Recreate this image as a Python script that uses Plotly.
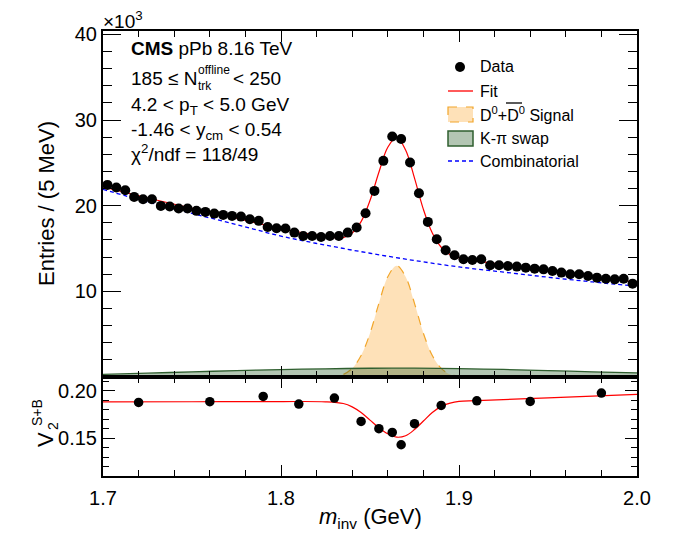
import plotly.graph_objects as go

FONT = "Liberation Sans"

# ---------------- data ----------------
# 5 MeV bins from 1.70 to 2.00 GeV
bin_lo, bin_width, n_bins = 1.70, 0.005, 60
mass = [round(bin_lo + bin_width * (i + 0.5), 4) for i in range(n_bins)]
entries = [22.43, 22.13, 21.81, 21.03, 20.76, 20.76, 19.98, 19.90, 19.67, 19.67,
           19.40, 19.28, 19.08, 18.93, 18.81, 18.73, 18.42, 18.23, 17.52, 17.37,
           17.33, 16.86, 16.47, 16.47, 16.35, 16.47, 16.47, 16.86, 17.45, 19.12,
           21.73, 25.24, 28.09, 27.78, 25.05, 21.46, 18.11, 16.08, 14.80, 14.21,
           13.74, 13.66, 13.74, 13.04, 13.04, 12.96, 12.89, 12.77, 12.65, 12.57,
           12.37, 12.19, 11.99, 11.99, 11.79, 11.60, 11.48, 11.40, 11.48, 10.90]

fit_m = [1.700, 1.725, 1.750, 1.775, 1.800, 1.810, 1.820, 1.830, 1.835, 1.840,
         1.845, 1.850, 1.855, 1.860, 1.865, 1.870, 1.875, 1.880, 1.885, 1.890,
         1.895, 1.900, 1.910, 1.925, 1.950, 1.975, 2.000]
fit_y = [22.20, 20.90, 19.70, 18.55, 17.32, 16.93, 16.57, 16.27, 16.28, 16.82,
         18.14, 20.60, 23.90, 26.83, 27.97, 26.50, 23.23, 19.57, 16.81, 15.15,
         14.29, 13.93, 13.52, 13.13, 12.40, 11.70, 11.08]

comb_m = [1.700, 1.725, 1.750, 1.775, 1.800, 1.825, 1.850, 1.875, 1.900, 1.925, 1.950, 1.975, 2.000]
comb_y = [21.90, 20.45, 19.10, 17.80, 16.45, 15.40, 14.45, 13.60, 12.85, 12.25, 11.65, 11.10, 10.60]

sig_m = [1.815, 1.820, 1.825, 1.830, 1.835, 1.840, 1.845, 1.850, 1.855, 1.860, 1.865,
         1.870, 1.875, 1.880, 1.885, 1.890, 1.895, 1.900, 1.905, 1.910]
sig_y = [0.00, 0.02, 0.05, 0.10, 0.30, 1.00, 2.50, 5.10, 8.60, 11.70, 13.00,
         11.70, 8.60, 5.10, 2.50, 1.00, 0.30, 0.10, 0.03, 0.00]

swap_m = [1.700, 1.725, 1.750, 1.775, 1.800, 1.825, 1.850, 1.875, 1.900, 1.925, 1.950, 1.975, 2.000]
swap_y = [0.30, 0.45, 0.60, 0.75, 0.87, 0.96, 1.02, 1.03, 0.98, 0.88, 0.75, 0.60, 0.48]

v2_m = [1.72, 1.76, 1.79, 1.81, 1.83, 1.845, 1.855, 1.8625, 1.8675, 1.875, 1.89, 1.91, 1.94, 1.98]
v2_y = [0.1877, 0.1884, 0.1940, 0.1859, 0.1923, 0.1676, 0.1599, 0.1560, 0.1430, 0.1652,
        0.1845, 0.1894, 0.1887, 0.1975]

v2fit_m = [1.700, 1.750, 1.800, 1.825, 1.835, 1.840, 1.845, 1.850, 1.855, 1.860, 1.865,
           1.870, 1.875, 1.880, 1.885, 1.890, 1.895, 1.900, 1.910, 1.950, 2.000]
v2fit_y = [0.1882, 0.1884, 0.1886, 0.1883, 0.1865, 0.1830, 0.1770, 0.1690, 0.1610, 0.1545, 0.1510,
           0.1525, 0.1590, 0.1680, 0.1770, 0.1835, 0.1870, 0.1888, 0.1895, 0.1925, 0.1962]

x_range = [1.7, 2.0]
x_ticks = [1.7, 1.8, 1.9, 2.0]
x_ticktext = ["1.7", "1.8", "1.9", "2.0"]
y1_range = [0, 40.4]
y1_ticks = [10, 20, 30, 40]
y1_minor = [2, 4, 6, 8, 12, 14, 16, 18, 22, 24, 26, 28, 32, 34, 36, 38]
y2_range = [0.110, 0.2145]
y2_ticks = [0.15, 0.20]
y2_ticktext = ["0.15", "0.20"]
y2_minor = [0.12, 0.13, 0.14, 0.16, 0.17, 0.18, 0.19, 0.21]

# ---------------- geometry (pixels of the page) ----------------
W, H = 680, 537
PAGE_OFF = 8            # default body margin of the html page
L, R, T, B = 103, 637, 31, 476
SPLIT = 377


def px(x):
    return (x - L) / (R - L)


def py(y):
    return (B - y) / (B - T)


RED = "#ff0000"
BLUE = "#0000ff"
ORANGE_LINE = "#f2a62a"
ORANGE_FILL = "rgba(253,200,125,0.55)"
GREEN_LINE = "#2f5f2f"
GREEN_FILL = "rgba(50,100,50,0.37)"

fig = go.Figure()

fig.add_trace(go.Scatter(x=sig_m, y=sig_y, mode="lines", line=dict(color=ORANGE_LINE, width=1.2, dash="dash", shape="spline"),
                         fill="tozeroy", fillcolor=ORANGE_FILL, xaxis="x", yaxis="y", name="Signal"))
fig.add_trace(go.Scatter(x=swap_m, y=swap_y, mode="lines", line=dict(color=GREEN_LINE, width=1.3, shape="spline"),
                         fill="tozeroy", fillcolor=GREEN_FILL, xaxis="x", yaxis="y", name="K-pi swap"))
fig.add_trace(go.Scatter(x=comb_m, y=comb_y, mode="lines", line=dict(color=BLUE, width=1.3, dash="4px,3px", shape="spline"),
                         xaxis="x", yaxis="y", name="Combinatorial"))
fig.add_trace(go.Scatter(x=fit_m, y=fit_y, mode="lines", line=dict(color=RED, width=1.2, shape="spline"),
                         xaxis="x", yaxis="y", name="Fit"))
fig.add_trace(go.Scatter(x=mass, y=entries, mode="markers", marker=dict(color="black", size=10),
                         xaxis="x", yaxis="y", name="Data"))

fig.add_trace(go.Scatter(x=v2fit_m, y=v2fit_y, mode="lines", line=dict(color=RED, width=1.2, shape="spline"),
                         xaxis="x2", yaxis="y2", name="v2 fit"))
fig.add_trace(go.Scatter(x=v2_m, y=v2_y, mode="markers", marker=dict(color="black", size=9.5),
                         xaxis="x2", yaxis="y2", name="v2 data"))

axis_common = dict(showline=True, linecolor="black", linewidth=2, mirror="ticks", ticks="inside",
                   tickcolor="black", tickwidth=1.2, showgrid=False, zeroline=False,
                   tickfont=dict(family=FONT, size=20, color="black"))

fig.update_layout(
    width=W, height=H,
    margin=dict(l=L - PAGE_OFF, r=W - (R - PAGE_OFF), t=T - PAGE_OFF, b=H - (B - PAGE_OFF)),
    plot_bgcolor="white", paper_bgcolor="white",
    showlegend=False,
    font=dict(family=FONT, color="black"),
    xaxis=dict(domain=[0, 1], range=x_range, anchor="y", tickvals=x_ticks, showticklabels=False,
               ticklen=11, minor=dict(dtick=0.02, tick0=1.7, ticks="inside", ticklen=6, tickcolor="black", tickwidth=1.2),
               **axis_common),
    yaxis=dict(domain=[py(SPLIT), 1], range=y1_range, anchor="x", tickvals=y1_ticks, ticklen=18,
               minor=dict(tickvals=y1_minor, ticks="inside", ticklen=9, tickcolor="black", tickwidth=1.2),
               **axis_common),
    xaxis2=dict(domain=[0, 1], range=x_range, anchor="y2", tickvals=x_ticks, ticktext=x_ticktext,
                ticklen=11, ticklabelstandoff=3,
                minor=dict(dtick=0.02, tick0=1.7, ticks="inside", ticklen=6, tickcolor="black", tickwidth=1.2),
                **axis_common),
    yaxis2=dict(domain=[0, py(SPLIT)], range=y2_range, anchor="x2", tickvals=y2_ticks, ticktext=y2_ticktext,
                ticklen=12, minor=dict(tickvals=y2_minor, ticks="inside", ticklen=6, tickcolor="black", tickwidth=1.2),
                **axis_common),
)


def note(text, x, y, size, xanchor="left", yanchor="middle", angle=0):
    return dict(text=text, x=px(x), y=py(y), xref="paper", yref="paper", showarrow=False,
                font=dict(family=FONT, size=size, color="black"), xanchor=xanchor, yanchor=yanchor,
                textangle=angle)


annotations = [
    note("×10<sup>3</sup>", 101, 20, 19),
    note("<b>CMS</b> pPb 8.16 TeV", 129, 48, 19),
    note("185 ≤ N", 129, 78, 19),
    note("offline", 196, 70, 12),
    note("trk", 196, 86, 12),
    note("< 250", 231, 78, 19),
    note("4.2 < p<sub>T</sub> < 5.0 GeV", 129, 106, 19),
    note("-1.46 < y<sub>cm</sub> < 0.54", 129, 131, 19),
    note("χ<sup>2</sup>/ndf = 118/49", 129, 153, 19),
    # legend texts
    note("Data", 478, 67, 16),
    note("Fit", 478, 91, 16),
    note("D<sup>0</sup>+D<sup>0</sup> Signal", 478, 114, 16),
    note("K-π swap", 478, 138, 16),
    note("Combinatorial", 478, 161, 16),
    # axis titles
    note("Entries / (5 MeV)", 46, 204, 22, xanchor="center", angle=-90),
    note("<i>m</i><sub>inv</sub> (GeV)", 370, 518, 22, xanchor="center"),
    note("V", 45, 440, 22, xanchor="center", angle=-90),
    note("2", 53, 426, 14, xanchor="center", angle=-90),
    note("S+B", 37, 413, 14, xanchor="center", angle=-90),
]

shapes = [
    dict(type="circle", xref="paper", yref="paper", xsizemode="pixel", ysizemode="pixel",
         xanchor=px(460), yanchor=py(67), x0=-5, x1=5, y0=-5, y1=5, fillcolor="black", line=dict(width=0)),
    dict(type="line", xref="paper", yref="paper", x0=px(448), x1=px(473), y0=py(91), y1=py(91),
         line=dict(color=RED, width=1.3)),
    dict(type="rect", xref="paper", yref="paper", x0=px(448), x1=px(473), y0=py(107), y1=py(122),
         fillcolor=ORANGE_FILL, line=dict(color=ORANGE_LINE, width=1.2, dash="dash")),
    dict(type="line", xref="paper", yref="paper", x0=px(506), x1=px(522), y0=py(103), y1=py(103),
         line=dict(color="black", width=1.3)),
    dict(type="rect", xref="paper", yref="paper", x0=px(448), x1=px(473), y0=py(131), y1=py(146),
         fillcolor=GREEN_FILL, line=dict(color=GREEN_LINE, width=1.5)),
    dict(type="line", xref="paper", yref="paper", x0=px(448), x1=px(473), y0=py(161), y1=py(161),
         line=dict(color=BLUE, width=1.3, dash="4px,3px")),
]

fig.update_layout(annotations=annotations, shapes=shapes)

fig.write_html("out.html")
